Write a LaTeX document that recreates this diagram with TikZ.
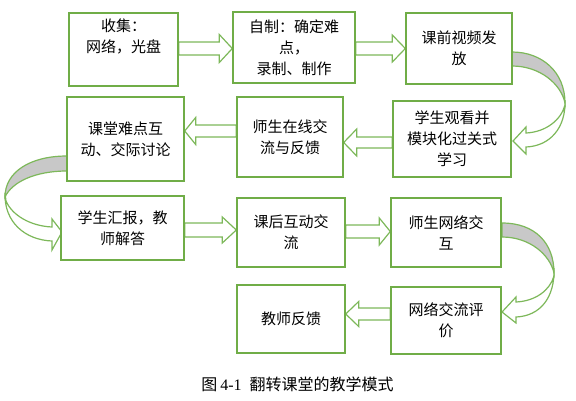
\documentclass[tikz,border=0pt]{standalone}
\usepackage{fontspec}
\setmainfont{Noto Sans CJK SC}
\newfontfamily\latfont{Liberation Serif}
\usetikzlibrary{calc}
\pgfdeclarelayer{background}
\pgfsetlayers{background,main}
\definecolor{boxgreen}{RGB}{112,173,71}
\definecolor{arrgreen}{RGB}{125,184,90}
\definecolor{bandgray}{RGB}{200,200,200}
\tikzset{
  stepbox/.style={draw=boxgreen, line width=1.4pt, fill=white, align=center, inner sep=0pt,
    font=\fontsize{15}{21}\selectfont},
  barr/.style={draw=arrgreen, line width=1.2pt, fill=white, line join=miter},
  backband/.style={draw=arrgreen, line width=1.2pt, fill=bandgray},
  frontband/.style={draw=arrgreen, line width=1.2pt, fill=white},
}
% #1 start anchor, #2 tip anchor, #3 y (px, downward), #4 shaft half, #5 head half, #6 head length
\newcommand\blockarr[6]{%
  \draw[barr] let \p1=(#1), \p2=(#2), \n1={sign(\x2-\x1)} in
    (\x1,{-#3pt+#4pt}) -- ({\x2-\n1*#6pt},{-#3pt+#4pt}) -- ({\x2-\n1*#6pt},{-#3pt+#5pt})
    -- (\x2,{-#3pt}) -- ({\x2-\n1*#6pt},{-#3pt-#5pt}) -- ({\x2-\n1*#6pt},{-#3pt-#4pt})
    -- (\x1,{-#3pt-#4pt}) -- cycle;}
\begin{document}
\begin{tikzpicture}[x=1pt,y=-1pt]
\useasboundingbox (0,0) rectangle (576,400);
% boxes
\node[stepbox, minimum width=109pt, minimum height=73pt] (b1) at (123.5,49.5) {收集：\\网络，光盘\\\strut};
\node[stepbox, minimum width=122pt, minimum height=71pt] (b2) at (294,47.5) {自制：确定难\\点，\\录制、制作};
\node[stepbox, minimum width=106pt, minimum height=71pt] (b3) at (459,48.5) {课前视频发\\放};
\node[stepbox, minimum width=118pt, minimum height=76pt] (b4) at (452,139) {学生观看并\\模块化过关式\\学习};
\node[stepbox, minimum width=106pt, minimum height=80pt] (b5) at (290,137) {师生在线交\\流与反馈};
\node[stepbox, minimum width=117pt, minimum height=84pt] (b6) at (125.5,139) {课堂难点互\\动、交际讨论};
\node[stepbox, minimum width=123pt, minimum height=64pt] (b7) at (122.5,228) {学生汇报，教\\师解答};
\node[stepbox, minimum width=108pt, minimum height=69pt] (b8) at (291,232.5) {课后互动交\\流};
\node[stepbox, minimum width=110pt, minimum height=69pt] (b9) at (446,232.5) {师生网络交\\互};
\node[stepbox, minimum width=110pt, minimum height=67pt] (b10) at (446,320.5) {网络交流评\\价};
\node[stepbox, minimum width=108pt, minimum height=68pt] (b11) at (291,319) {教师反馈};
% caption
\node[font=\fontsize{16}{20}\selectfont, inner sep=0pt] (cap) at (297.5,384)
  {图\hspace{3pt}{\latfont 4-1}\hspace{8pt}翻转课堂的教学模式};
\begin{pgfonlayer}{background}
% straight block arrows
\blockarr{b1.east}{b2.west}{48.5}{6.5}{14}{13}
\blockarr{b2.east}{b3.west}{48.5}{6.5}{13.5}{13}
\blockarr{b4.west}{b5.east}{142.5}{5.5}{13.5}{13}
\blockarr{b5.west}{b6.east}{131}{6}{13.5}{11}
\blockarr{b7.east}{b8.west}{230}{7}{13}{14}
\blockarr{b8.east}{b9.west}{231.5}{6.5}{13.5}{11}
\blockarr{b10.west}{b11.east}{314}{6}{12.5}{13}
% curved arrow b3 -> b4
\draw[backband] (512,52) .. controls (542,52) and (565,72) .. (565,103)
  .. controls (561,84) and (540,66) .. (512,66) -- cycle;
\draw[frontband] (565,100) .. controls (566,128) and (550,146) .. (526,147)
  -- (526,154) -- (513,141) -- (526,127) -- (526,133)
  .. controls (546,132) and (561,120) .. (565,105) -- cycle;
% curved arrow b6 -> b7
\draw[backband] (67,156) .. controls (30,156) and (5,172) .. (5,197)
  .. controls (12,182) and (35,171) .. (67,171) -- cycle;
\draw[frontband] (5,193) .. controls (4,222) and (25,240) .. (52,241)
  -- (52,250) -- (62,232) -- (52,219) -- (52,227)
  .. controls (30,226) and (12,215) .. (6,201) -- cycle;
% curved arrow b9 -> b10
\draw[backband] (502,223) .. controls (535,223) and (554,243) .. (554,273)
  .. controls (550,255) and (530,237) .. (502,237) -- cycle;
\draw[frontband] (554,268) .. controls (555,298) and (540,316) .. (516,317)
  -- (516,323) -- (502,312) -- (516,297) -- (516,302)
  .. controls (536,301) and (550,290) .. (554,276) -- cycle;
\end{pgfonlayer}
\end{tikzpicture}
\end{document}
